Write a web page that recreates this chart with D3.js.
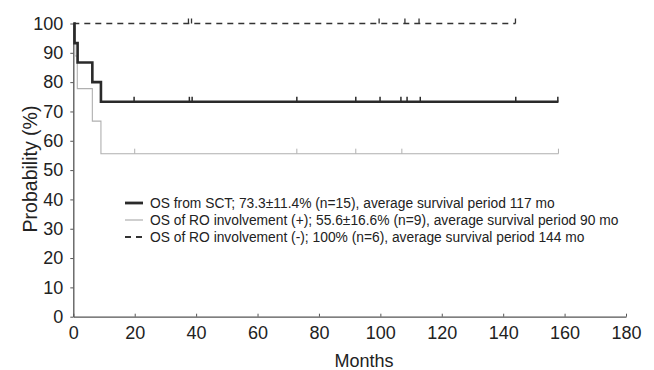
<!DOCTYPE html>
<html><head><meta charset="utf-8">
<script src="https://cdn.jsdelivr.net/npm/d3@7"></script>
<style>body{margin:0;background:#fff}svg{display:block}text{font-family:"Liberation Sans",Arial,sans-serif}</style>
</head><body><svg id="c" width="654" height="370"></svg>
<script>
const xTicks = [0,20,40,60,80,100,120,140,160,180];
const yTicks = [0,10,20,30,40,50,60,70,80,90,100];
// OS from SCT (n=15)
const sctTimes = [0, 0.4, 1.4, 6.2, 9.0, 158];
const sctSurv  = [100, 93.3, 86.7, 80, 73.3, 73.3];
const sctCensor = [19.8, 37.8, 38.7, 72.8, 92, 99.9, 106.7, 108.7, 113, 144.1, 157.8];
// OS of RO involvement (+) (n=9)
const posTimes = [0, 0.5, 1.3, 6.2, 9.0, 158];
const posSurv  = [100, 88.9, 77.8, 66.7, 55.6, 55.6];
const posCensor = [20, 72.8, 92, 107, 158];
// OS of RO involvement (-) (n=6)
const negTimes = [0, 144];
const negSurv  = [100, 100];
const negCensor = [37.5, 38.5, 99.6, 108, 112.6, 144];
const legendLabels = [
  "OS from SCT; 73.3\u00b111.4% (n=15), average survival period 117 mo",
  "OS of RO involvement (+); 55.6\u00b116.6% (n=9), average survival period 90 mo",
  "OS of RO involvement (-); 100% (n=6), average survival period 144 mo"
];

const svg = d3.select("#c");
const x = d3.scaleLinear().domain([0,180]).range([73.3, 626]);
const y = d3.scaleLinear().domain([0,100]).range([316.7, 23.5]);
const axisColor = "#555";

const xa = svg.append("g").attr("transform",`translate(0,${y(0)})`)
  .call(d3.axisBottom(x).tickValues(xTicks).tickSizeInner(-3).tickSizeOuter(0).tickPadding(10));
const ya = svg.append("g").attr("transform",`translate(${x(0)},0)`)
  .call(d3.axisLeft(y).tickValues(yTicks).tickSizeInner(3).tickSizeOuter(0).tickPadding(7));
[xa, ya].forEach(a => {
  a.select(".domain").attr("stroke", axisColor).attr("stroke-width", 1.3);
  a.selectAll(".tick line").attr("stroke", axisColor);
  a.selectAll(".tick text").attr("fill","#222").style("font-size","18px")
   .style("font-family",'"Liberation Sans",Arial,sans-serif');
});

svg.append("text").attr("x",364).attr("y",367).attr("text-anchor","middle")
  .attr("fill","#222").style("font-size","18px").text("Months");
svg.append("text").attr("transform","translate(37,169) rotate(-90)").attr("text-anchor","middle")
  .attr("fill","#222").style("font-size","19.5px").text("Probability (%)");

function curve(times, surv, color, width, dash, censor, markW) {
  const pts = times.map((t,i)=>[t, surv[i]]);
  const line = d3.line().x(d=>x(d[0])).y(d=>y(d[1])).curve(d3.curveStepAfter);
  svg.append("path").datum(pts).attr("d", line).attr("fill","none")
    .attr("stroke", color).attr("stroke-width", width)
    .attr("stroke-dasharray", dash || null);
  const survAt = t => { let s = surv[0]; times.forEach((tt,i)=>{ if (tt <= t) s = surv[i]; }); return s; };
  svg.append("g").selectAll("line").data(censor).join("line")
    .attr("x1", d=>x(d)).attr("x2", d=>x(d))
    .attr("y1", d=>y(survAt(d))).attr("y2", d=>y(survAt(d)) - 5)
    .attr("stroke", color).attr("stroke-width", markW);
}
curve(posTimes, posSurv, "#b0b0b0", 1.1, null, posCensor, 1);
curve(negTimes, negSurv, "#333", 1.5, "6,5", negCensor, 1.3);
curve(sctTimes, sctSurv, "#2a2a2a", 2.6, null, sctCensor, 1.5);

const legStyles = [
  {c:"#2a2a2a", w:2.8, d:null},
  {c:"#b0b0b0", w:1.2, d:null},
  {c:"#333", w:2, d:"6,5"}
];
const lg = svg.append("g");
legendLabels.forEach((t,i)=>{
  const yy = 203 + i*17;
  lg.append("line").attr("x1",125).attr("x2",143).attr("y1",yy).attr("y2",yy)
    .attr("stroke",legStyles[i].c).attr("stroke-width",legStyles[i].w)
    .attr("stroke-dasharray",legStyles[i].d);
  lg.append("text").attr("x",150).attr("y",yy).attr("dy","0.35em")
    .attr("fill","#222").style("font-size","13.8px").text(t);
});
</script></body></html>
